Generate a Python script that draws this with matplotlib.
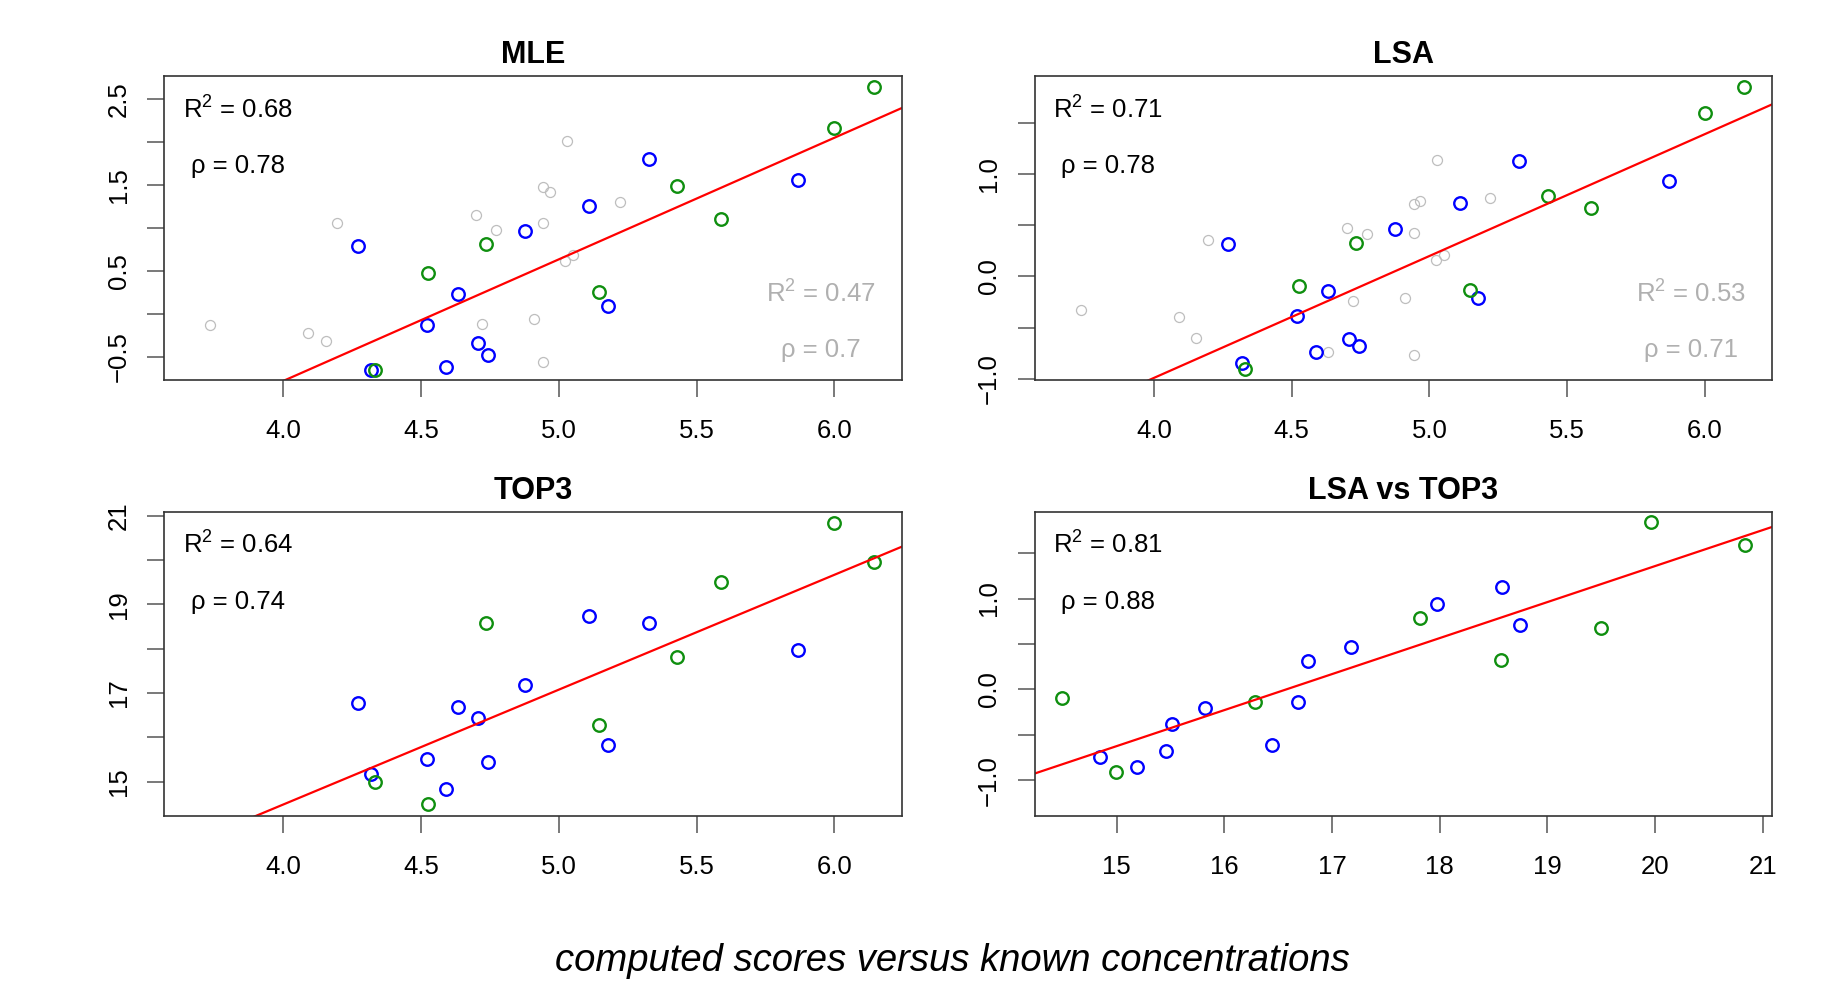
import numpy as np
import matplotlib
matplotlib.use('Agg')
import matplotlib.pyplot as plt

plt.rcParams['font.family'] = ['Liberation Sans', 'DejaVu Sans']
plt.rcParams['mathtext.fontset'] = 'custom'
plt.rcParams['mathtext.rm'] = 'Liberation Sans'
plt.rcParams['mathtext.it'] = 'Liberation Sans:italic'

# known concentrations (x) for the two groups of samples
conc_blue = [4.270, 4.319, 4.521, 4.589, 4.633, 4.708, 4.744, 4.876, 5.110, 5.178, 5.326, 5.868]
conc_green = [4.332, 4.525, 4.735, 5.146, 5.430, 5.588, 6.000, 6.142]

# computed scores
mle_blue = [0.788, -0.652, -0.130, -0.617, 0.232, -0.337, -0.481, 0.963, 1.251, 0.095, 1.800, 1.562]
mle_green = [-0.660, 0.469, 0.811, 0.251, 1.488, 1.107, 2.165, 2.640]
lsa_blue = [0.312, -0.851, -0.383, -0.744, -0.140, -0.610, -0.682, 0.461, 0.714, -0.208, 1.127, 0.935]
lsa_green = [-0.906, -0.091, 0.321, -0.136, 0.786, 0.672, 1.594, 1.847]
top3_blue = [16.775, 15.187, 15.509, 14.843, 16.685, 16.446, 15.457, 17.180, 18.745, 15.824, 18.581, 17.974]
top3_green = [14.993, 14.491, 18.573, 16.288, 17.816, 19.502, 20.835, 19.959]

# other (grey) samples
mle_grey_x = [3.735, 4.091, 4.154, 4.196, 4.700, 4.722, 4.772, 4.910, 4.944, 4.944, 4.967,
              4.944, 5.028, 5.022, 5.052, 5.220]
mle_grey_y = [-0.130, -0.220, -0.317, 1.056, 1.154, -0.119, 0.979, -0.060, 1.060, 1.477, 1.418,
              -0.562, 2.010, 0.613, 0.679, 1.302]
lsa_grey_x = [3.735, 4.091, 4.154, 4.196, 4.632, 4.700, 4.722, 4.772, 4.910, 4.944, 4.944, 4.967,
              4.944, 5.028, 5.022, 5.052, 5.220]
lsa_grey_y = [-0.331, -0.393, -0.604, 0.357, -0.737, 0.471, -0.240, 0.412, -0.211, 0.425, 0.708, 0.731,
              -0.766, 1.136, 0.162, 0.211, 0.766]

stats = {'MLE': ('0.68', '0.78'), 'LSA': ('0.71', '0.78'),
         'TOP3': ('0.64', '0.74'), 'LSA vs TOP3': ('0.81', '0.88')}
grey_stats = {'MLE': ('0.47', '0.7'), 'LSA': ('0.53', '0.71')}

BLUE = '#0000FF'
GREEN = '#0F8F0F'
GREY = '#BEBEBE'

fig = plt.figure(figsize=(18.35, 9.81), dpi=100)

left1, left2, w = 0.0894, 0.5638, 0.4020
bot_top, bot_bot, h = 0.6126, 0.1685, 0.3100

panels = [
    ('MLE', [left1, bot_top, w, h], conc_blue, mle_blue, conc_green, mle_green,
     (mle_grey_x, mle_grey_y), (3.567, 6.244), (-0.773, 2.772),
     [4.0, 4.5, 5.0, 5.5, 6.0], np.arange(-0.5, 2.51, 0.5), ['-0.5', '0.5', '1.5', '2.5']),
    ('LSA', [left2, bot_top, w, h], conc_blue, lsa_blue, conc_green, lsa_green,
     (lsa_grey_x, lsa_grey_y), (3.567, 6.244), (-1.013, 1.957),
     [4.0, 4.5, 5.0, 5.5, 6.0], np.arange(-1.0, 1.51, 0.5), ['-1.0', '0.0', '1.0']),
    ('TOP3', [left1, bot_bot, w, h], conc_blue, top3_blue, conc_green, top3_green,
     None, (3.567, 6.244), (14.237, 21.089),
     [4.0, 4.5, 5.0, 5.5, 6.0], np.arange(15, 21.1, 1), ['15', '17', '19', '21']),
    ('LSA vs TOP3', [left2, bot_bot, w, h], top3_blue, lsa_blue, top3_green, lsa_green,
     None, (14.237, 21.089), (-1.392, 1.958),
     [15, 16, 17, 18, 19, 20, 21], np.arange(-1.0, 1.51, 0.5), ['-1.0', '0.0', '1.0']),
]

for (name, rect, xb, yb, xg, yg, grey, xlim, ylim, xt, yt, ytl) in panels:
    ax = fig.add_axes(rect)
    if grey is not None:
        ax.plot(grey[0], grey[1], 'o', mfc='none', mec=GREY, ms=7.2, mew=0.9, ls='none')
    ax.plot(xb, yb, 'o', mfc='none', mec=BLUE, ms=9, mew=1.7, ls='none')
    ax.plot(xg, yg, 'o', mfc='none', mec=GREEN, ms=9, mew=1.7, ls='none')

    # least squares line through the coloured points
    xs = np.array(xb + xg)
    ys = np.array(yb + yg)
    slope, icpt = np.polyfit(xs, ys, 1)
    lx = np.array(xlim)
    ax.plot(lx, icpt + slope * lx, color='red', lw=1.6)

    ax.set_xlim(xlim)
    ax.set_ylim(ylim)
    ax.set_xticks(xt)
    ax.set_xticklabels([('%g' % v) if name == 'LSA vs TOP3' else '%.1f' % v for v in xt])
    ax.set_yticks(yt)
    labs = []
    for v in yt:
        s = ('%g' % v) if name == 'TOP3' else '%.1f' % v
        s = s.replace('-', '\u2212')
        labs.append(s if s.replace('\u2212', '-') in ytl else '')
    ax.set_yticklabels(labs)

    ax.tick_params(axis='x', direction='out', length=12, width=1.1, color='#555555',
                   labelsize=18.5, pad=16)
    ax.tick_params(axis='y', direction='out', length=12, width=1.1, color='#555555',
                   labelsize=18.5, pad=12, labelrotation=90)
    for lbl in ax.get_yticklabels():
        lbl.set_va('center')
    for sp in ax.spines.values():
        sp.set_linewidth(1.2)
        sp.set_color('#333333')

    ax.set_title(name, fontsize=22, fontweight='bold', pad=9)

    r2, rho = stats[name]
    ax.text(0.1, 0.861, 'R$^2$ = ' + r2, transform=ax.transAxes, ha='center', va='baseline',
            fontsize=18.5)
    ax.text(0.1, 0.681, '\u03c1 = ' + rho, transform=ax.transAxes, ha='center', va='baseline',
            fontsize=18.5)
    if name in grey_stats:
        r2g, rhog = grey_stats[name]
        ax.text(0.89, 0.254, 'R$^2$ = ' + r2g, transform=ax.transAxes, ha='center',
                va='baseline', fontsize=18.5, color='#B0B0B0')
        ax.text(0.89, 0.076, '\u03c1 = ' + rhog, transform=ax.transAxes, ha='center',
                va='baseline', fontsize=18.5, color='#B0B0B0')

fig.text(0.519, 0.0105, 'computed scores versus known concentrations', ha='center',
         va='baseline', fontsize=27.5, style='italic')

fig.savefig('out.png', dpi=100)
